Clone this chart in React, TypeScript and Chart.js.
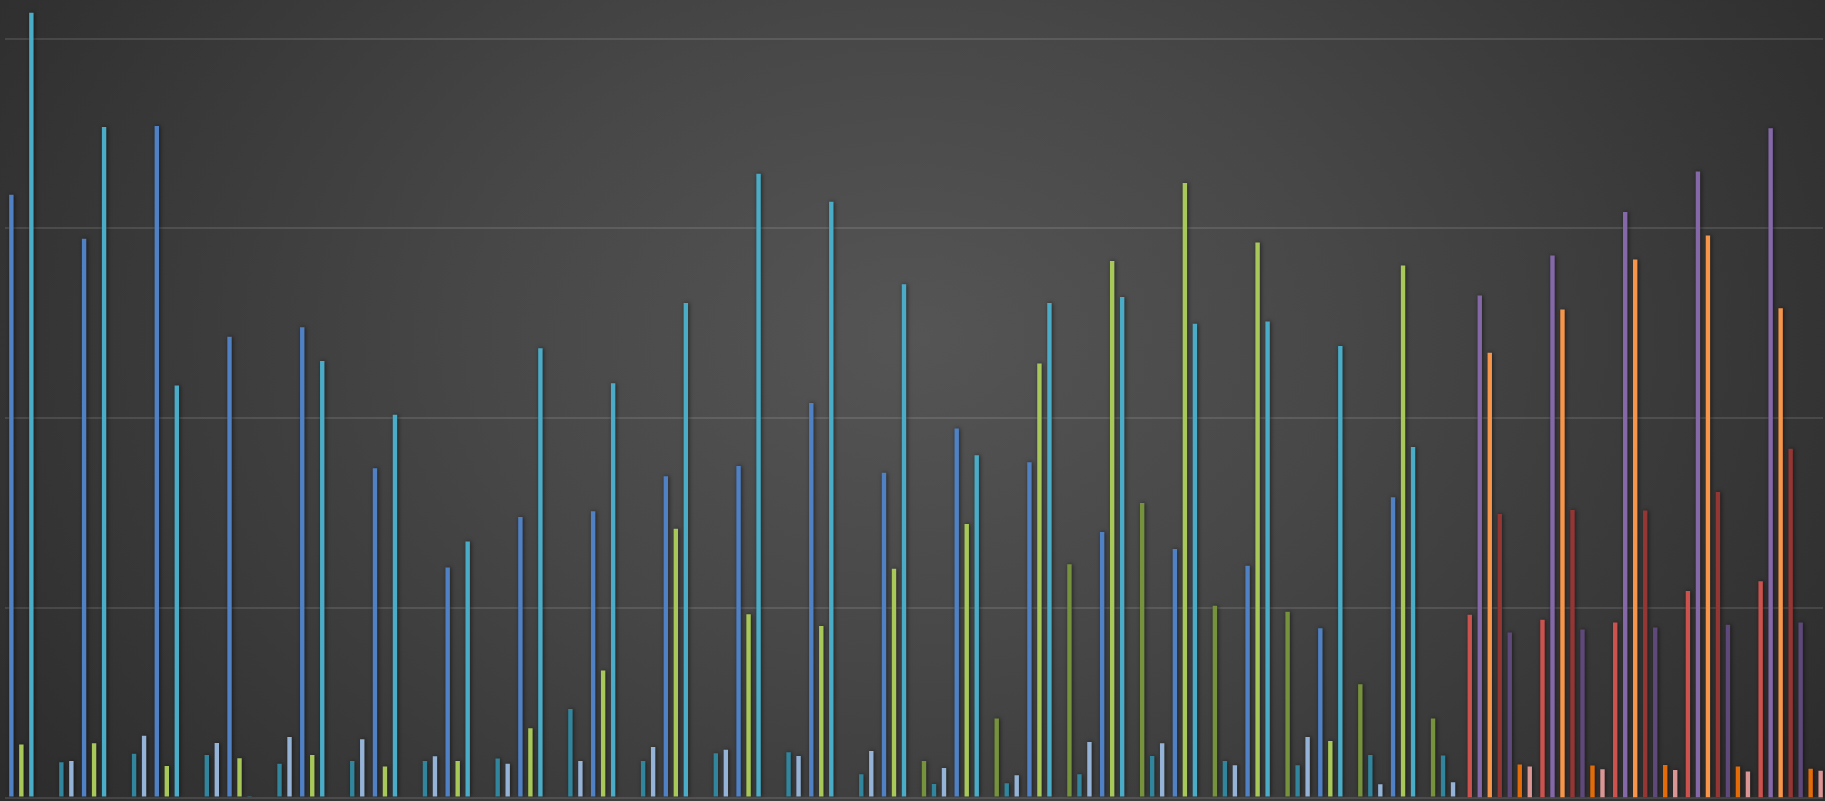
import React, { useEffect, useRef } from "react";
import { Chart, registerables } from "chart.js";

Chart.register(...registerables);

const categories = Array.from({ length: 25 }, (_, i) => String(i + 1));
const N = null;
const none5 = [N, N, N, N, N];
const none20 = [N, N, N, N, N, N, N, N, N, N, N, N, N, N, N, N, N, N, N, N];

// first family of series (categories 1-20)
const seriesBlue = [317.8, 294.5, 354.0, 242.9, 247.9, 173.6, 121.3, 147.9, 150.9, 169.3, 174.8, 208.0, 171.2, 194.5, 176.7, 139.9, 131.0, 122.2, 89.2, 158.3, ...none5];
const seriesGreen = [28.0, 28.6, 16.6, 20.7, 22.4, 16.4, 19.2, 36.5, 66.9, 141.7, 96.6, 90.4, 120.6, 144.2, 228.8, 282.8, 323.9, 292.6, 29.8, 280.4, ...none5];
const seriesAqua = [413.7, 353.4, 217.2, 0.4, 230.1, 201.8, 135.0, 236.8, 218.4, 260.7, 328.8, 314.1, 270.6, 180.4, 260.7, 263.8, 249.7, 250.9, 238.0, 184.7, ...none5];
const seriesDarkBlue = [0, 0, 0, 0, 0, 0, 0, 0, 0, 0, 0, 0, 0, 0, 0, 0, 0, 0, 0, 0, ...none5];
const seriesDarkGreen = [0, 0, 0, 0, 0, 0, 0, 0, 0, 0, 0, 0, 19.2, 41.7, 122.9, 155.2, 101.1, 97.9, 59.7, 41.7, ...none5];
const seriesDarkAqua = [18.6, 23.1, 22.4, 17.8, 19.2, 19.2, 20.5, 46.7, 19.2, 23.3, 23.8, 12.2, 7.1, 7.5, 12.2, 21.9, 19.2, 17.0, 22.4, 22.2, ...none5];
const seriesLightBlue = [19.2, 32.6, 28.7, 31.9, 30.7, 21.7, 17.8, 19.2, 26.6, 25.2, 21.9, 24.5, 15.6, 11.7, 29.3, 28.6, 17.0, 31.9, 7.0, 8.0, ...none5];

// second family of series (categories 21-25)
const seriesRed = [...none20, 96.3, 93.7, 92.2, 108.8, 114.0];
const seriesPurple = [...none20, 264.6, 285.7, 308.6, 330.0, 352.8];
const seriesOrange = [...none20, 234.4, 257.2, 283.6, 296.3, 257.9];
const seriesDarkRed = [...none20, 149.5, 151.6, 151.3, 161.0, 183.9];
const seriesDarkPurple = [...none20, 87.0, 88.5, 89.6, 91.1, 92.2];
const seriesDarkOrange = [...none20, 17.4, 16.9, 17.1, 16.3, 15.2];
const seriesLightRed = [...none20, 16.3, 14.9, 14.5, 13.7, 14.1];

const yTicks = [0, 100, 200, 300, 400];
const yMax = 420.4;

const familyA = [
  { label: "Blue", data: seriesBlue, color: "#4f81c4" },
  { label: "Green", data: seriesGreen, color: "#a8c95a" },
  { label: "Aqua", data: seriesAqua, color: "#4bacc8" },
  { label: "Dark Blue", data: seriesDarkBlue, color: "#366092" },
  { label: "Dark Green", data: seriesDarkGreen, color: "#76923c" },
  { label: "Dark Aqua", data: seriesDarkAqua, color: "#31859c" },
  { label: "Light Blue", data: seriesLightBlue, color: "#95b3d7" },
];
const familyB = [
  { label: "Red", data: seriesRed, color: "#cc524e" },
  { label: "Purple", data: seriesPurple, color: "#8468a8" },
  { label: "Orange", data: seriesOrange, color: "#f7964a" },
  { label: "Dark Red", data: seriesDarkRed, color: "#943634" },
  { label: "Dark Purple", data: seriesDarkPurple, color: "#5f497a" },
  { label: "Dark Orange", data: seriesDarkOrange, color: "#e36c09" },
  { label: "Light Red", data: seriesLightRed, color: "#d99694" },
];

const shadowPlugin = {
  id: "barShadow",
  beforeDatasetsDraw(chart: any) {
    const c = chart.ctx;
    c.save();
    c.shadowColor = "rgba(0,0,0,0.55)";
    c.shadowBlur = 4;
    c.shadowOffsetX = 1;
    c.shadowOffsetY = 0;
  },
  afterDatasetsDraw(chart: any) {
    chart.ctx.restore();
  },
};

function makeConfig(family: typeof familyA, showGrid: boolean, padLeft: number) {
  return {
    type: "bar",
    data: {
      labels: categories,
      datasets: family.map((s) => ({
        label: s.label,
        data: s.data as any,
        backgroundColor: s.color,
        borderWidth: 0,
        categoryPercentage: 0.9626,
        barPercentage: 0.44,
      })),
    },
    options: {
      responsive: false,
      animation: false,
      layout: { padding: { left: padLeft, right: 2, top: 0, bottom: 3.5 } },
      plugins: { legend: { display: false }, tooltip: { enabled: false } },
      scales: {
        x: { display: false },
        y: {
          display: true,
          min: 0,
          max: yMax,
          afterBuildTicks: (axis: any) => {
            axis.ticks = yTicks.map((v) => ({ value: v }));
          },
          ticks: { display: false },
          border: { display: false },
          grid: {
            display: showGrid,
            color: "rgba(255,255,255,0.11)",
            lineWidth: 2,
            drawTicks: false,
          },
        },
      },
    },
    plugins: [shadowPlugin],
  } as any;
}

export default function App() {
  const refA = useRef<HTMLCanvasElement | null>(null);
  const refB = useRef<HTMLCanvasElement | null>(null);
  useEffect(() => {
    if (!refA.current || !refB.current) return;
    const chartA = new Chart(refA.current, makeConfig(familyA, true, 5));
    const chartB = new Chart(refB.current, makeConfig(familyB, false, 9));
    return () => {
      chartA.destroy();
      chartB.destroy();
    };
  }, []);
  return (
    <div
      style={{
        position: "fixed",
        left: 0,
        top: 0,
        width: 1825,
        height: 801,
        overflow: "hidden",
        background:
          "radial-gradient(ellipse 60% 100% at 50% 42%, #555555 0%, #474747 40%, #2c2c2c 100%)",
      }}
    >
      <canvas ref={refA} width={1825} height={801} style={{ position: "absolute", left: 0, top: 0 }} />
      <canvas ref={refB} width={1829} height={801} style={{ position: "absolute", left: 0, top: 0 }} />
    </div>
  );
}
